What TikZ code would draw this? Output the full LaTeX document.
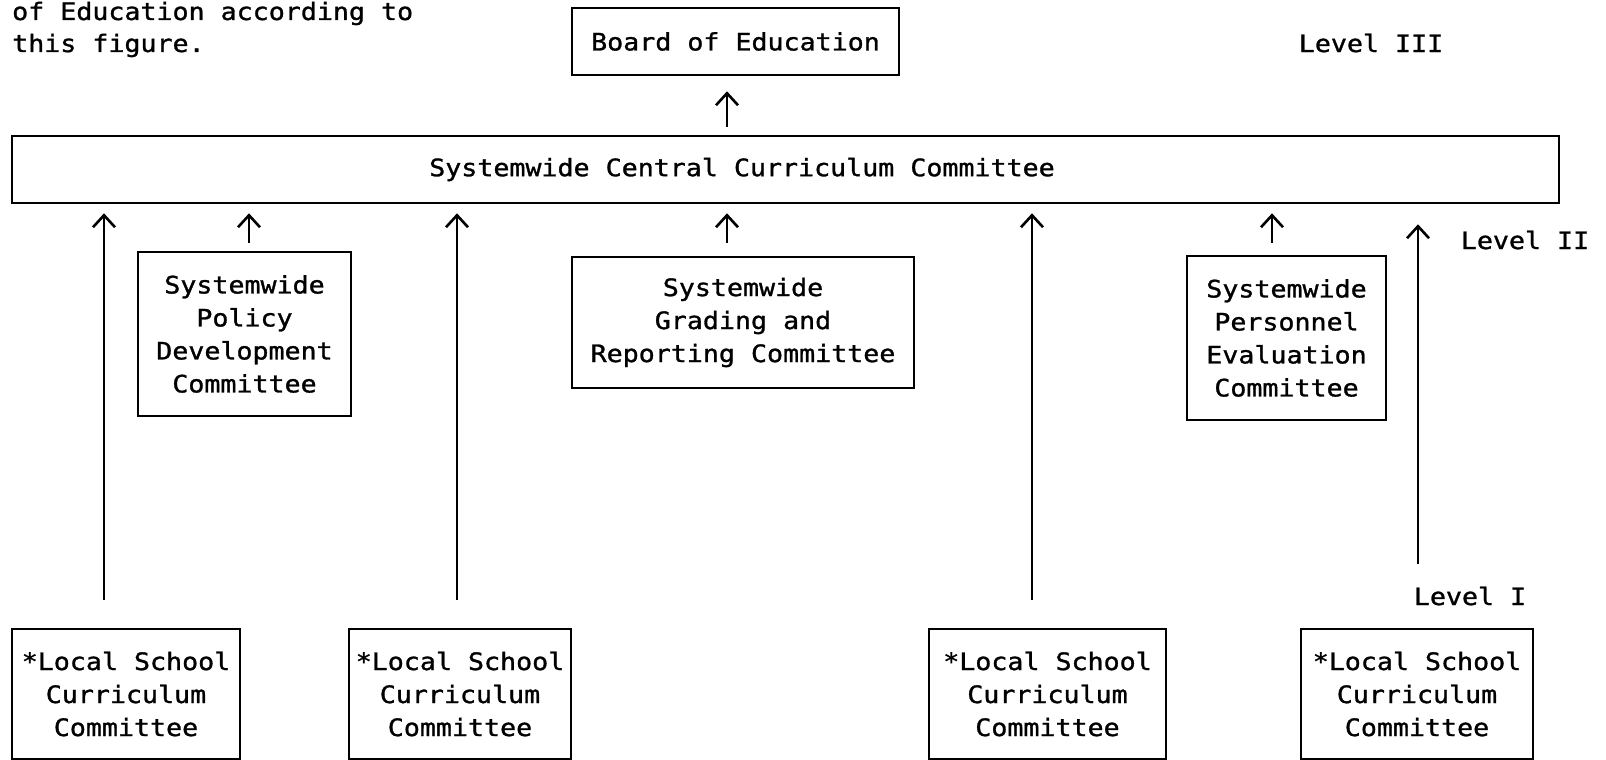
\documentclass[tikz,border=0pt]{standalone}
\usepackage{fontspec}
\setmainfont{DejaVu Sans Mono}[FakeStretch=1.11,FakeBold=1.2]
\usetikzlibrary{arrows.meta}
\begin{document}
\begin{tikzpicture}[x=1pt,y=-1pt,
  every node/.style={font=\fontsize{24}{33}\selectfont},
  box/.style={draw, line width=2.6pt, inner sep=0pt},
  multi/.style={box, align=center},
  lbl/.style={inner sep=0pt},
  arr/.style={line width=2.6pt, -{Straight Barb[length=12pt,width=22pt]}}]
\useasboundingbox (0,0) rectangle (1606,760);

% caption fragment, top left
\node[lbl, anchor=base west] (cap1) at (12,20) {of Education according to};
\node[lbl, anchor=base west] (cap2) at (12,52) {this figure.};

% level III
\node[box, minimum width=327pt, minimum height=67pt] (board) at (735.5,41.5) {Board of Education};

% level II
\node[box, minimum width=1547pt, minimum height=67pt] (central) at (785.5,169.5)
  {Systemwide Central Curriculum Committee\hspace*{87pt}};
\node[multi, minimum width=213pt, minimum height=164pt] (policy) at (244.5,334)
  {Systemwide\\Policy\\Development\\Committee};
\node[multi, minimum width=342pt, minimum height=131pt] (grading) at (743,322.5)
  {Systemwide\\Grading and\\Reporting Committee};
\node[multi, minimum width=199pt, minimum height=164pt] (personnel) at (1286.5,338)
  {Systemwide\\Personnel\\Evaluation\\Committee};

% level I
\node[multi, minimum width=228pt, minimum height=130pt] (L1) at (126,694)
  {*Local School\\Curriculum\\Committee};
\node[multi, minimum width=222pt, minimum height=130pt] (L2) at (460,694)
  {*Local School\\Curriculum\\Committee};
\node[multi, minimum width=237pt, minimum height=130pt] (L3) at (1047.5,694)
  {*Local School\\Curriculum\\Committee};
\node[multi, minimum width=232pt, minimum height=130pt] (L4) at (1417,694)
  {*Local School\\Curriculum\\Committee};

% level labels
\node[lbl] (lv3) at (1371,43) {Level III};
\node[lbl] (lv2) at (1525,240) {Level II};
\node[lbl] (lv1) at (1470,596) {Level I};

% connectors up to the central committee
\foreach \n/\dx/\dy/\t in {L1/-22/-28/9, policy/4.5/-8/9, L2/-3/-28/9,
    grading/-16/-13/9, L3/-15.5/-28/9, personnel/-14.5/-12/9, L4/1/-64/20}{
  \path (\n.north) ++(\dx,\dy) coordinate (s);
  \draw[arr, shorten >=\t pt] (s) -- (s |- central.south);
}

% connector up to the board
\path (central.north) ++(-58.5,-8) coordinate (sb);
\draw[arr, shorten >=15pt] (sb) -- (sb |- board.south);
\end{tikzpicture}
\end{document}
